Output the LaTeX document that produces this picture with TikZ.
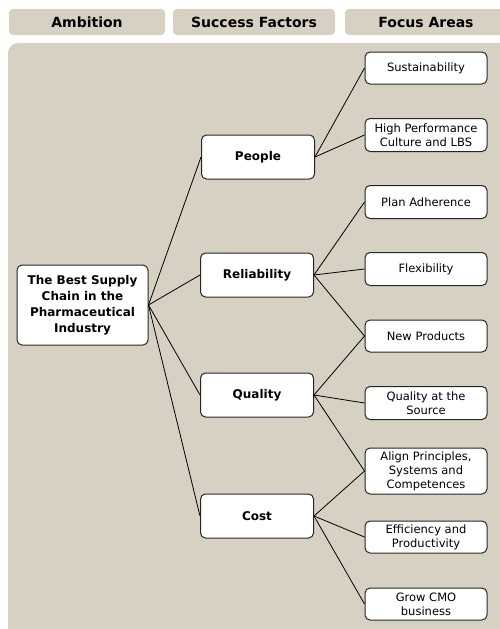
\documentclass[tikz,border=0pt]{standalone}
\usepackage{fontspec}
\setmainfont{DejaVu Sans}
\definecolor{panel}{RGB}{215,209,195}
\tikzset{
  head/.style={fill=panel, rounded corners=4pt, minimum height=26pt, inner sep=0pt,
    font=\fontsize{14}{16}\selectfont\bfseries},
  box/.style={draw=black!85, fill=white, line width=1pt, rounded corners=5pt,
    align=center, inner sep=1pt},
  goal/.style={box, minimum width=131pt, minimum height=80pt,
    font=\fontsize{12}{16}\selectfont\bfseries},
  factor/.style={box, minimum width=113pt, minimum height=44pt,
    font=\fontsize{12}{14}\selectfont\bfseries},
  area/.style={box, minimum width=122pt, minimum height=32pt,
    font=\fontsize{11.5}{14}\selectfont},
  link/.style={line width=0.8pt}
}
\begin{document}
\begin{tikzpicture}[x=1pt,y=-1pt]
    \useasboundingbox (0,0) rectangle (500,629);
    \clip (0,0) rectangle (500,629);
    % column headers and background
    \node [head, minimum width=156pt] (hamb) at (87,22) {Ambition};
    \node [head, minimum width=162pt] (hsf) at (254,22) {Success Factors};
    \node [head, minimum width=162pt] (hfa) at (426,22) {Focus Areas};
    \fill [panel, rounded corners=10pt] (8,43) rectangle (520,650);
    % ambition
    \node [goal] (best) at (82.5,305) {The Best Supply\\Chain in the\\Pharmaceutical\\Industry};
    % success factors
    \node [factor] (people) at (258,157) {People};
    \node [factor] (reli) at (257,275) {Reliability};
    \node [factor] (qual) at (257,395) {Quality};
    \node [factor] (cost) at (257,516) {Cost};
    % focus areas
    \node [area] (sust) at (426,68) {Sustainability};
    \node [area, minimum height=33pt] (hpc) at (426,135) {High Performance\\Culture and LBS};
    \node [area, minimum height=33pt] (plan) at (426,202) {Plan Adherence};
    \node [area, minimum height=33pt] (flex) at (426,269) {Flexibility};
    \node [area] (newp) at (426,336) {New Products};
    \node [area, minimum height=33pt] (qsrc) at (426,403) {Quality at the\\Source};
    \node [area, minimum height=46pt] (align) at (426,471) {Align Principles,\\Systems and\\Competences};
    \node [area] (eff) at (426,537) {Efficiency and\\Productivity};
    \node [area] (grow) at (426,604) {Grow CMO\\business};
    % connectors
    \foreach \f in {people,reli,qual,cost}
      \draw [link] (best.east) -- (\f.west);
    \foreach \a in {sust,hpc}
      \draw [link] (people.east) -- (\a.west);
    \foreach \a in {plan,flex,newp}
      \draw [link] (reli.east) -- (\a.west);
    \foreach \a in {newp,qsrc,align}
      \draw [link] (qual.east) -- (\a.west);
    \foreach \a in {align,eff,grow}
      \draw [link] (cost.east) -- (\a.west);
\end{tikzpicture}
\end{document}
